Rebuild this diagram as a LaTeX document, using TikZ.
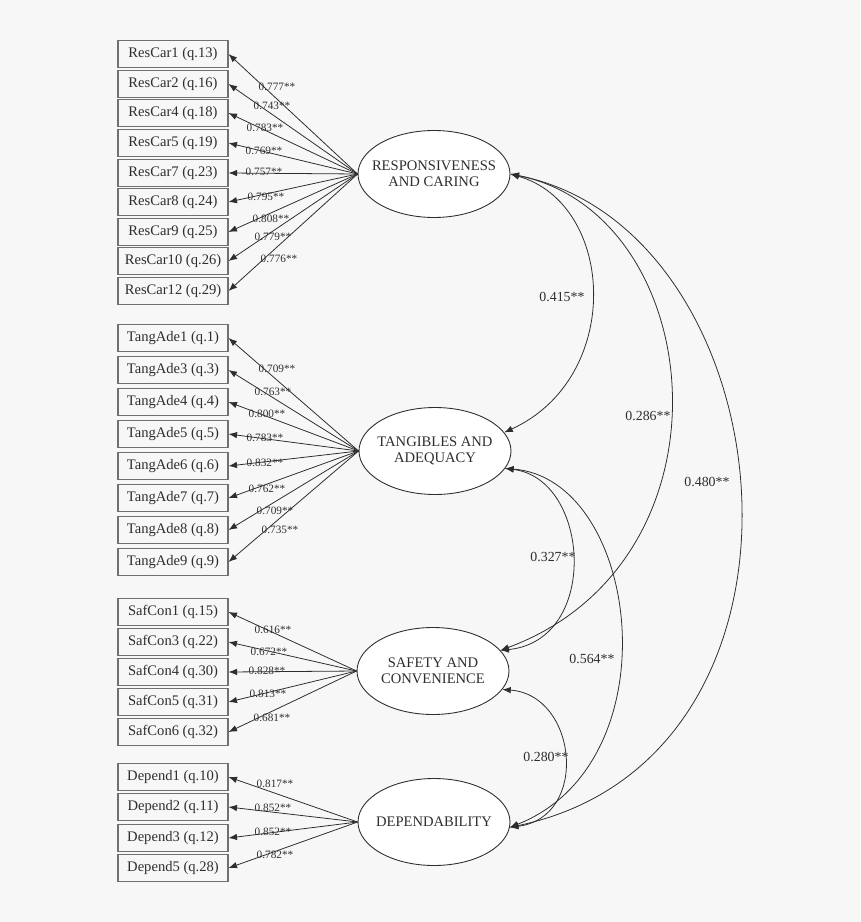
\documentclass[tikz,border=0pt]{standalone}
\usepackage{fontspec}
\setmainfont{Liberation Serif}
\usepackage{tikz}
\usetikzlibrary{shapes.geometric, arrows.meta}

\definecolor{bgcol}{HTML}{F7F7F7}
\definecolor{inkcol}{HTML}{2E2E2E}
\definecolor{boxcol}{HTML}{707070}

\begin{document}
\begin{tikzpicture}[
    x=0.02cm, y=-0.02cm,
    every node/.style={font=\fontsize{8.3}{9}\selectfont, text=inkcol},
    item/.style={rectangle, draw=boxcol, line width=0.6pt, fill=bgcol, inner sep=0pt,
                 minimum width=2.2cm, minimum height=0.54cm},
    factor/.style={ellipse, draw=inkcol, line width=0.5pt, fill=white, align=center,
                   inner xsep=-5pt, inner ysep=0pt, minimum width=3.04cm, minimum height=1.74cm},
    load/.style={font=\fontsize{6.4}{7}\selectfont, inner sep=0pt},
    cov/.style={font=\fontsize{7.9}{9}\selectfont, inner sep=0pt},
    arr/.style={-{Latex[length=1.7mm, width=1.3mm]}, draw=inkcol, line width=0.45pt},
    darr/.style={{Latex[length=1.7mm, width=1.3mm]}-{Latex[length=1.7mm, width=1.3mm]},
                 draw=inkcol, line width=0.45pt}
]
\fill[bgcol] (0,0) rectangle (860,922);
\useasboundingbox (0,0) rectangle (860,922);

\begin{scope}
\clip (0,0) rectangle (860,882);

% latent factors
\node[factor] (rc) at (434,174) {RESPONSIVENESS\\AND CARING};
\node[factor] (ta) at (435,451) {TANGIBLES AND\\ADEQUACY};
\node[factor] (sc) at (433,671) {SAFETY AND\\CONVENIENCE};
\node[factor] (dp) at (434,822) {DEPENDABILITY};

% responsiveness and caring items
\node[item] (rc1)  at (173,54)  {ResCar1 (q.13)};
\node[item] (rc2)  at (173,84)  {ResCar2 (q.16)};
\node[item] (rc4)  at (173,113) {ResCar4 (q.18)};
\node[item] (rc5)  at (173,143) {ResCar5 (q.19)};
\node[item] (rc7)  at (173,173) {ResCar7 (q.23)};
\node[item] (rc8)  at (173,202) {ResCar8 (q.24)};
\node[item] (rc9)  at (173,232) {ResCar9 (q.25)};
\node[item] (rc10) at (173,261) {ResCar10 (q.26)};
\node[item] (rc12) at (173,291) {ResCar12 (q.29)};

% tangibles and adequacy items
\node[item] (ta1) at (173,338) {TangAde1 (q.1)};
\node[item] (ta3) at (173,370) {TangAde3 (q.3)};
\node[item] (ta4) at (173,402) {TangAde4 (q.4)};
\node[item] (ta5) at (173,434) {TangAde5 (q.5)};
\node[item] (ta6) at (173,466) {TangAde6 (q.6)};
\node[item] (ta7) at (173,498) {TangAde7 (q.7)};
\node[item] (ta8) at (173,530) {TangAde8 (q.8)};
\node[item] (ta9) at (173,562) {TangAde9 (q.9)};

% safety and convenience items
\node[item] (sc1) at (173,612) {SafCon1 (q.15)};
\node[item] (sc3) at (173,642) {SafCon3 (q.22)};
\node[item] (sc4) at (173,672) {SafCon4 (q.30)};
\node[item] (sc5) at (173,702) {SafCon5 (q.31)};
\node[item] (sc6) at (173,732) {SafCon6 (q.32)};

% dependability items
\node[item] (dp1) at (173,777) {Depend1 (q.10)};
\node[item] (dp2) at (173,807) {Depend2 (q.11)};
\node[item] (dp3) at (173,838) {Depend3 (q.12)};
\node[item] (dp5) at (173,868) {Depend5 (q.28)};

% loadings
\draw[arr] (rc.west) -- (rc1.east)  node[load] at (277,87)  {0.777**};
\draw[arr] (rc.west) -- (rc2.east)  node[load] at (272,106) {0.743**};
\draw[arr] (rc.west) -- (rc4.east)  node[load] at (265,128) {0.783**};
\draw[arr] (rc.west) -- (rc5.east)  node[load] at (264,151) {0.769**};
\draw[arr] (rc.west) -- (rc7.east)  node[load] at (264,172) {0.757**};
\draw[arr] (rc.west) -- (rc8.east)  node[load] at (266,197) {0.795**};
\draw[arr] (rc.west) -- (rc9.east)  node[load] at (271,219) {0.808**};
\draw[arr] (rc.west) -- (rc10.east) node[load] at (273,237) {0.779**};
\draw[arr] (rc.west) -- (rc12.east) node[load] at (279,259) {0.776**};

\draw[arr] (ta.west) -- (ta1.east) node[load] at (277,369) {0.709**};
\draw[arr] (ta.west) -- (ta3.east) node[load] at (273,392) {0.763**};
\draw[arr] (ta.west) -- (ta4.east) node[load] at (267,414) {0.800**};
\draw[arr] (ta.west) -- (ta5.east) node[load] at (265,438) {0.783**};
\draw[arr] (ta.west) -- (ta6.east) node[load] at (265,463) {0.832**};
\draw[arr] (ta.west) -- (ta7.east) node[load] at (267,489) {0.762**};
\draw[arr] (ta.west) -- (ta8.east) node[load] at (275,511) {0.709**};
\draw[arr] (ta.west) -- (ta9.east) node[load] at (280,530) {0.735**};

\draw[arr] (sc.west) -- (sc1.east) node[load] at (273,630) {0.616**};
\draw[arr] (sc.west) -- (sc3.east) node[load] at (269,652) {0.672**};
\draw[arr] (sc.west) -- (sc4.east) node[load] at (267,671) {0.828**};
\draw[arr] (sc.west) -- (sc5.east) node[load] at (268,694) {0.813**};
\draw[arr] (sc.west) -- (sc6.east) node[load] at (272,718) {0.681**};

\draw[arr] (dp.west) -- (dp1.east) node[load] at (275,784) {0.817**};
\draw[arr] (dp.west) -- (dp2.east) node[load] at (273,808) {0.852**};
\draw[arr] (dp.west) -- (dp3.east) node[load] at (273,832) {0.852**};
\draw[arr] (dp.west) -- (dp5.east) node[load] at (275,855) {0.782**};

% covariances
\draw[darr] (rc.east) .. controls +(105,30) and +(120,-55) .. (ta.15);
\draw[darr] (rc.east) .. controls +(198,40) and +(242,-90) .. (sc.17);
\draw[darr] (rc.east) .. controls +(278,55) and +(334,-70) .. (dp.-4);
\draw[darr] (ta.-14) .. controls +(85,10) and +(100,-10) .. (sc.17);
\draw[darr] (ta.-14) .. controls +(135,10) and +(165,-65) .. (dp.-4);
\draw[darr] (sc.-15) .. controls +(75,5) and +(80,-10) .. (dp.-4);

\node[cov] (c1) at (562,297) {0.415**};
\node[cov] (c2) at (648,416) {0.286**};
\node[cov] (c3) at (707,482) {0.480**};
\node[cov] (c4) at (553,557) {0.327**};
\node[cov] (c5) at (592,659) {0.564**};
\node[cov] (c6) at (546,757) {0.280**};
\end{scope}
\end{tikzpicture}
\end{document}
